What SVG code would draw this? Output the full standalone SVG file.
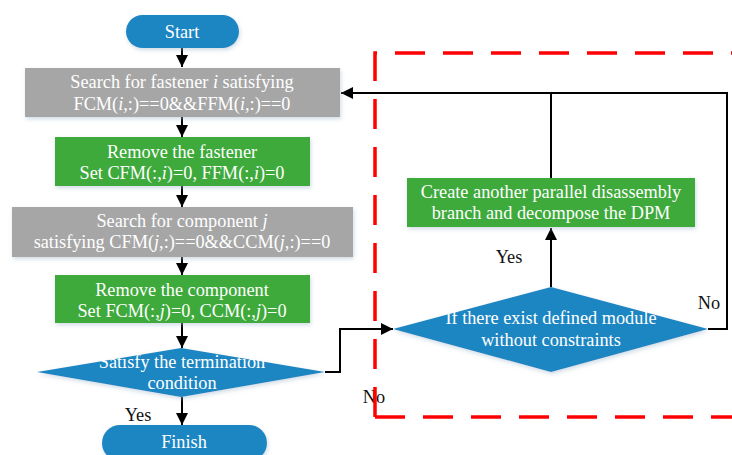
<svg xmlns="http://www.w3.org/2000/svg" width="732" height="455" viewBox="0 0 732 455">
<style>
text{font-family:'Liberation Serif','Times New Roman',Times,serif;font-size:18.3px;text-anchor:middle}
.w{fill:#ffffff}
.k{fill:#111111}
.blue{fill:#1c86c3}
.green{fill:#3eaa3a}
.gray{fill:#a6a6a6}
.ln{fill:none;stroke:#000;stroke-width:2}
.it{font-style:italic}
</style>
<defs>
<marker id="ah" viewBox="0 0 10 10" refX="10" refY="5" markerWidth="6" markerHeight="6" markerUnits="strokeWidth" orient="auto">
<path d="M0,0 L10,5 L0,10 z" fill="#000"/>
</marker>
<filter id="sh" x="-10%" y="-20%" width="120%" height="150%">
<feDropShadow dx="1" dy="2" stdDeviation="2" flood-color="#9fb7cc" flood-opacity="0.5"/>
</filter>
</defs>

<g id="region">
<text class="k" x="374" y="403">No</text>
<path d="M375 417 V53 H732 M375 417 H732" fill="none" stroke="#ff0000" stroke-width="3.5" stroke-dasharray="30 18"/>
</g>

<g id="connectors">
<line class="ln" x1="182" y1="48" x2="182" y2="67" marker-end="url(#ah)"/>
<line class="ln" x1="182" y1="117" x2="182" y2="137" marker-end="url(#ah)"/>
<line class="ln" x1="182" y1="186" x2="182" y2="207" marker-end="url(#ah)"/>
<line class="ln" x1="182" y1="257" x2="182" y2="275" marker-end="url(#ah)"/>
<line class="ln" x1="182" y1="323" x2="182" y2="348" marker-end="url(#ah)"/>
<line class="ln" x1="182" y1="397" x2="182" y2="425" marker-end="url(#ah)"/>
<polyline class="ln" points="325,372 340,372 340,329 393,329" marker-end="url(#ah)"/>
<line class="ln" x1="551" y1="287" x2="551" y2="228" marker-end="url(#ah)"/>
<line class="ln" x1="551" y1="178" x2="551" y2="93"/>
<polyline class="ln" points="708,329 727,329 727,93 341,93" marker-end="url(#ah)"/>
<text class="k" x="138" y="421">Yes</text>
<text class="k" x="509" y="263">Yes</text>
<text class="k" x="709" y="309">No</text>
</g>

<g id="start">
<rect class="blue" x="126" y="15" width="113" height="33" rx="16.5" filter="url(#sh)"/>
<text class="w" x="182" y="38">Start</text>
</g>

<g id="search-fastener">
<rect class="gray" x="25" y="68" width="315" height="49" filter="url(#sh)"/>
<text class="w" x="182" y="88">Search for fastener <tspan class="it">i</tspan> satisfying</text>
<text class="w" x="182" y="110">FCM(<tspan class="it">i</tspan>,:)==0&amp;&amp;FFM(<tspan class="it">i</tspan>,:)==0</text>
</g>

<g id="remove-fastener">
<rect class="green" x="55" y="137" width="255" height="49" filter="url(#sh)"/>
<text class="w" x="182" y="158">Remove the fastener</text>
<text class="w" x="182" y="179">Set CFM(:,<tspan class="it">i</tspan>)=0, FFM(:,<tspan class="it">i</tspan>)=0</text>
</g>

<g id="search-component">
<rect class="gray" x="12" y="207" width="341" height="50" filter="url(#sh)"/>
<text class="w" x="182" y="227">Search for component <tspan class="it">j</tspan></text>
<text class="w" x="182" y="248">satisfying CFM(<tspan class="it">j</tspan>,:)==0&amp;&amp;CCM(<tspan class="it">j</tspan>,:)==0</text>
</g>

<g id="remove-component">
<rect class="green" x="55" y="275" width="255" height="48" filter="url(#sh)"/>
<text class="w" x="182" y="296">Remove the component</text>
<text class="w" x="182" y="317">Set FCM(:,<tspan class="it">j</tspan>)=0, CCM(:,<tspan class="it">j</tspan>)=0</text>
</g>

<g id="termination">
<polygon class="blue" points="37,372 181,348 325,372 181,397" filter="url(#sh)"/>
<text class="w" x="182" y="368">Satisfy the termination</text>
<text class="w" x="182" y="389">condition</text>
</g>

<g id="finish">
<rect class="blue" x="102" y="425" width="165" height="36" rx="18" filter="url(#sh)"/>
<text class="w" x="184" y="448">Finish</text>
</g>

<g id="create-branch">
<rect class="green" x="407" y="178" width="288" height="49" filter="url(#sh)"/>
<text class="w" x="551" y="198">Create another parallel disassembly</text>
<text class="w" x="551" y="219">branch and decompose the DPM</text>
</g>

<g id="module-check">
<polygon class="blue" points="393,329 551,287 708,329 551,372" filter="url(#sh)"/>
<text class="w" x="551" y="324">If there exist defined module</text>
<text class="w" x="551" y="346">without constraints</text>
</g>
</svg>
